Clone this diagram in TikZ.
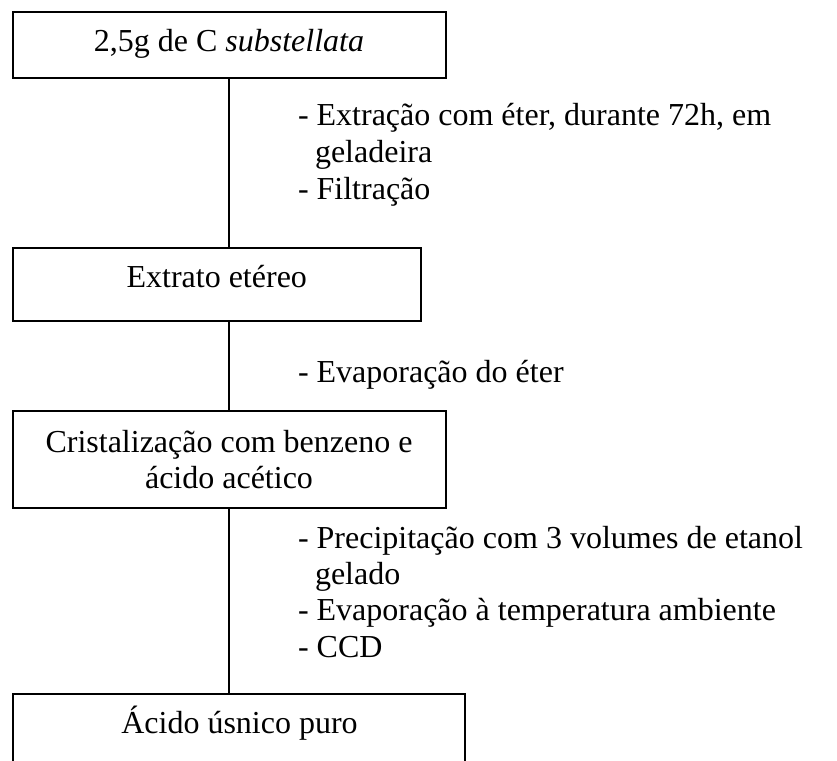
\documentclass[tikz,border=0pt]{standalone}
\usepackage{fontspec}
\setmainfont{Liberation Serif}
\begin{document}
\begin{tikzpicture}[x=1pt,y=-1pt,
  every node/.style={inner sep=0pt, outer sep=0pt, font=\fontsize{32}{36.8}\selectfont},
  stepbox/.style={draw=black, line width=2pt, rectangle},
  label/.style={anchor=base west},
  boxtext/.style={anchor=base},
  link/.style={draw=black, line width=2pt}]
\useasboundingbox (0,0) rectangle (837,760);
\clip (0,0) rectangle (837,760);
\fill[white] (0,0) rectangle (837,760);
% boxes
\node[stepbox, minimum width=433pt, minimum height=65.5pt] (b1) at (229,45.25) {};
\node[stepbox, minimum width=408.5pt, minimum height=73pt] (b2) at (216.75,284.5) {};
\node[stepbox, minimum width=433pt, minimum height=97pt] (b3) at (229,459.5) {};
\node[stepbox, minimum width=452.5pt, minimum height=73pt] (b4) at (238.75,730.5) {};
% box texts
\node[boxtext] (t1) at (229,52) {2,5g de C \textit{substellata}};
\node[boxtext] (t2) at (216.75,287) {Extrato etéreo};
\node[boxtext] (t3a) at (229,452) {Cristalização com benzeno e};
\node[boxtext] (t3b) at (229,488) {ácido acético};
\node[boxtext] (t4) at (239.5,733) {Ácido úsnico puro};
% connectors
\draw[link] (b1.south) -- (b1.south |- b2.north);
\draw[link] (b1.south |- b2.south) -- (b3.north);
\draw[link] (b3.south) -- (b3.south |- b4.north);
% step labels
\node[label] (s1a) at (298,125) {- Extração com éter, durante 72h, em};
\node[label] (s1b) at (315,162) {geladeira};
\node[label] (s1c) at (298,199) {- Filtração};
\node[label] (s2) at (298,382) {- Evaporação do éter};
\node[label] (s3a) at (298,548) {\makebox[505pt][s]{- Precipitação com 3 volumes de etanol}};
\node[label] (s3b) at (315,584) {gelado};
\node[label] (s3c) at (298,620) {- Evaporação à temperatura ambiente};
\node[label] (s3d) at (298,657) {- CCD};
\end{tikzpicture}
\end{document}
